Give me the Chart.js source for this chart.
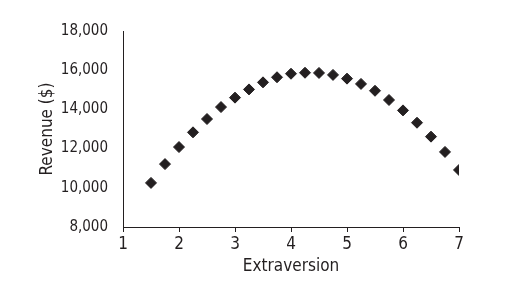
<!DOCTYPE html>
<html>
<head>
<meta charset="utf-8">
<script src="https://cdn.jsdelivr.net/npm/chart.js@4"></script>
<style>
  html, body { margin: 0; padding: 0; background: #fff; }
  #wrap { width: 531px; height: 289px; }
</style>
</head>
<body>
<div id="wrap"><canvas id="myChart" width="531" height="289"></canvas></div>
<script>
'use strict';

const extraversion = [1.5, 1.75, 2, 2.25, 2.5, 2.75, 3, 3.25, 3.5, 3.75, 4, 4.25,
  4.5, 4.75, 5, 5.25, 5.5, 5.75, 6, 6.25, 6.5, 6.75, 7];
const revenue = [10250, 11210, 12080, 12830, 13510, 14120, 14600, 15020, 15380, 15640,
  15820, 15870, 15860, 15760, 15570, 15300, 14950, 14480, 13950, 13320, 12610, 11830, 10910];

const ink = '#231f20';
const fontFamily = '"DejaVu Sans Condensed", "Liberation Sans", sans-serif';

const points = extraversion.map((x, i) => ({ x, y: revenue[i] }));

const config = {
  type: 'scatter',
  data: {
    datasets: [
      {
        data: points,
        pointStyle: 'rectRot',
        pointRadius: 5.5,
        backgroundColor: ink,
        borderColor: ink,
        borderWidth: 1,
      },
    ],
  },
  options: {
    responsive: false,
    animation: false,
    layout: { padding: { top: 31, right: 72, bottom: 0, left: 0 } },
    plugins: {
      legend: { display: false },
      tooltip: { enabled: false },
    },
    scales: {
      x: {
        type: 'linear',
        min: 1,
        max: 7,
        ticks: {
          stepSize: 1,
          color: ink,
          padding: 2,
          font: { family: fontFamily, size: 17 },
        },
        grid: {
          drawOnChartArea: false,
          drawTicks: true,
          tickLength: 5,
          color: ink,
        },
        border: { color: ink, width: 1 },
        title: {
          display: true,
          text: 'Extraversion',
          color: ink,
          font: { family: fontFamily, size: 17 },
          padding: { top: 0, bottom: 12 },
        },
        afterFit(scale) { scale.height = 62; },
      },
      y: {
        min: 8000,
        max: 18000,
        ticks: {
          stepSize: 2000,
          color: ink,
          padding: 7,
          font: { family: fontFamily, size: 15 },
          callback: (v) => v.toLocaleString('en-US'),
        },
        grid: { display: false },
        border: { display: true, color: ink, width: 1 },
        title: {
          display: true,
          text: 'Revenue ($)',
          color: ink,
          font: { family: fontFamily, size: 17 },
          padding: { top: 37, bottom: 0 },
        },
        afterFit(scale) { scale.width = 123; },
      },
    },
  },
};

const myChart = new Chart(document.getElementById('myChart'), config);
</script>
</body>
</html>
